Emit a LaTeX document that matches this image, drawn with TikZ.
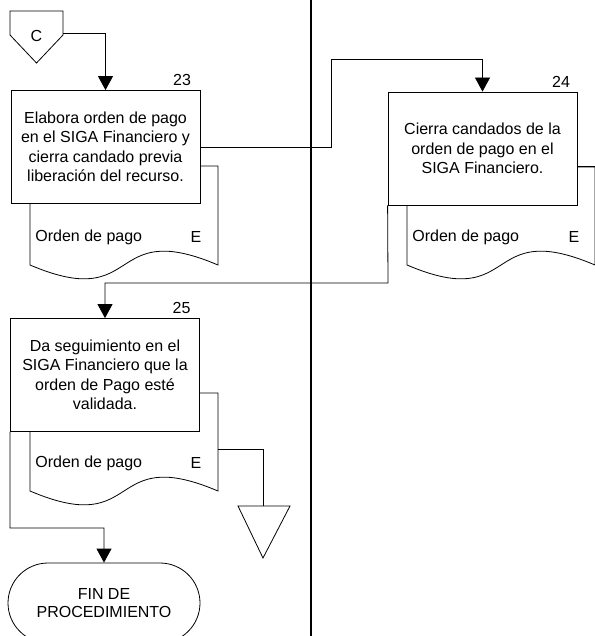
\documentclass[tikz,border=0pt]{standalone}
\usepackage{fontspec}
\setmainfont{Liberation Sans}
\usetikzlibrary{arrows.meta}

\begin{document}
\begin{tikzpicture}[x=1pt,y=-1pt,line width=0.8pt,
  proceso/.style={draw, fill=white, minimum width=189pt, minimum height=113pt, align=center, font=\fontsize{16}{19.5}\selectfont},
  texto/.style={font=\fontsize{16}{19.5}\selectfont, inner sep=0pt},
  flecha/.style={-{Triangle[length=14pt,width=15pt]}}]
\useasboundingbox (0,0) rectangle (594,636);
\draw [line width=1.5pt] (311,0) -- (311,636);
% conector C
\draw (10,11) -- (63,11) -- (63,35) -- (36.5,63) -- (10,35) -- cycle;
\node [texto] (c) at (36.5,36) {C};
\coordinate (csal) at (63,33);
% documentos
\draw [fill=white] (30,166) -- (218,166) -- (218,265) .. controls (105.2,217) and (142.8,313) .. (30,265) -- cycle;
\draw [fill=white] (407,167) -- (595,167) -- (595,265) .. controls (482.2,217) and (519.8,313) .. (407,265) -- cycle;
\draw [fill=white] (30,393) -- (218,393) -- (218,491) .. controls (105.2,443) and (142.8,539) .. (30,491) -- cycle;
\node [texto, anchor=west] (d23) at (35,237) {Orden de pago};
\node [texto] (e23) at (196,237) {E};
\node [texto, anchor=west] (d24) at (412,237) {Orden de pago};
\node [texto] (e24) at (574,237) {E};
\node [texto, anchor=west] (d25) at (35,463) {Orden de pago};
\node [texto] (e25) at (196,463) {E};
\coordinate (d25e) at (218,449);
% actividades
\node [proceso] (b23) at (105.5,147) {Elabora orden de pago\\en el SIGA Financiero y\\cierra candado previa\\liberación del recurso.};
\node [proceso] (b24) at (482.5,148.5) {Cierra candados de la\\orden de pago en el\\SIGA Financiero.};
\node [proceso] (b25) at (105,375) {Da seguimiento en el\\SIGA Financiero que la\\orden de Pago esté\\validada.};
\node [texto, anchor=base east] (n23) at ([xshift=-9pt,yshift=4.5pt]b23.north east) {23};
\node [texto, anchor=base east] (n24) at ([xshift=-7pt,yshift=4.5pt]b24.north east) {24};
\node [texto, anchor=base east] (n25) at ([xshift=-9pt,yshift=4.5pt]b25.north east) {25};
\node [draw, rounded corners=40pt, minimum width=192pt, minimum height=80pt, align=center, font=\fontsize{16}{18}\selectfont] (fin) at (104,603) {FIN DE\\PROCEDIMIENTO};
% archivo
\draw (238,506) -- (290,506) -- (263,558) -- cycle;
\coordinate (arch) at (263,506);
% conectores
\coordinate (k1) at (331,59);
\coordinate (k2) at (388,283);
\coordinate (k3) at (10,528);
\coordinate (s24) at (595,166);
\draw [flecha] (csal) -| (b23.north);
\draw [flecha] (b23.east) -| (k1) -| (b24.north);
\draw ([yshift=-17.5pt]b24.east) -- (s24);
\draw [flecha] (b24.south west) -- (k2) -| (b25.north);
\draw (d25e) -| (arch);
\draw [flecha] (b25.south west) -- (k3) -| (fin.north);
\end{tikzpicture}
\end{document}
